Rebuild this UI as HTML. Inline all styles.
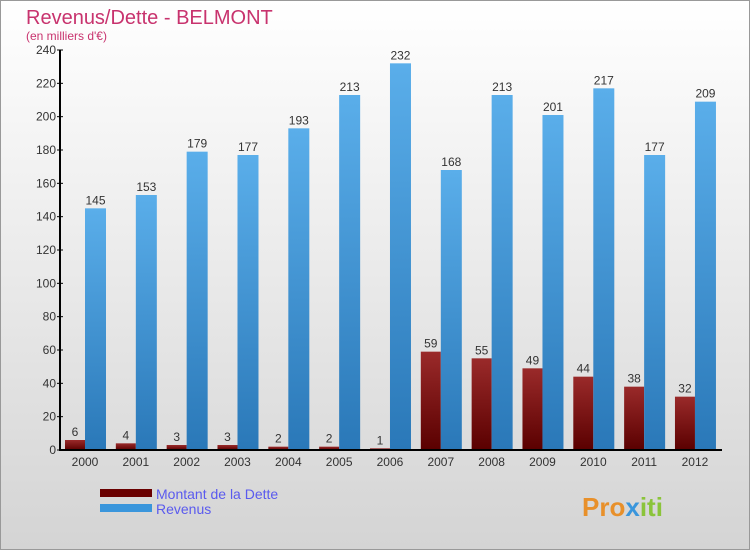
<!DOCTYPE html>
<html><head><meta charset="utf-8"><style>
body{margin:0;}
#c{width:750px;height:550px;position:relative;overflow:hidden;background:linear-gradient(#ffffff,#d4d4d4);font-family:"Liberation Sans",sans-serif;}
</style></head><body>
<div id="c">
<svg id="s" width="750" height="550" style="position:absolute;left:0;top:0">
<rect x="0.5" y="0.5" width="749" height="549" fill="none" stroke="#999"/>
<text x="26" y="24" font-size="20" fill="#c8336e">Revenus/Dette - BELMONT</text>
<text x="26" y="40" font-size="12" fill="#c8336e">(en milliers d'€)</text>
<g id="plot"></g>
<rect x="100" y="489" width="52" height="8" fill="#6a0000"/>
<text x="156" y="499" font-size="14" fill="#5a5aee">Montant de la Dette</text>
<rect x="100" y="504" width="52" height="8" fill="#3a96dc"/>
<text x="156" y="514" font-size="14" fill="#5a5aee">Revenus</text>
<text x="582" y="516" font-size="26" font-weight="bold" fill="#e8902a">Pro<tspan fill="#3a96dc">x</tspan><tspan fill="#8bc43a">iti</tspan></text>
</svg>
</div>
<script>
const years=["2000","2001","2002","2003","2004","2005","2006","2007","2008","2009","2010","2011","2012"];
const debt=[6,4,3,3,2,2,1,59,55,49,44,38,32];
const revenue=[145,153,179,177,193,213,232,168,213,201,217,177,209];
const ticks=[0,20,40,60,80,100,120,140,160,180,200,220,240];
const NS="http://www.w3.org/2000/svg";
const g=document.getElementById('plot');
const y=v=>450-v*400/240;
const xc=i=>85+i*50.83;
function mk(t,a){const e=document.createElementNS(NS,t);for(const k in a)e.setAttribute(k,a[k]);g.appendChild(e);return e;}
const defs=document.createElementNS(NS,'defs');
defs.innerHTML='<linearGradient id="gb" x1="0" y1="0" x2="0" y2="1"><stop offset="0" stop-color="#5aaeea"/><stop offset="1" stop-color="#2a78b8"/></linearGradient><linearGradient id="gr" x1="0" y1="0" x2="0" y2="1"><stop offset="0" stop-color="#9a2a2a"/><stop offset="1" stop-color="#5a0000"/></linearGradient>';
g.appendChild(defs);
ticks.forEach(t=>{
 const l=mk('line',{x1:57,x2:63,y1:y(t),y2:y(t),stroke:'#000'});
 
 const tx=mk('text',{x:56,y:y(t)+4,'text-anchor':'end','font-size':12,fill:'#333'});tx.textContent=t;
 
});
years.forEach((yr,i)=>{
 const c=xc(i);
 const d=mk('rect',{x:c-20,y:y(debt[i]),width:20,height:450-y(debt[i]),fill:'url(#gr)'});
 
 const r=mk('rect',{x:c,y:y(revenue[i]),width:21,height:450-y(revenue[i]),fill:'url(#gb)'});
 
 const dl=mk('text',{x:c-10,y:y(debt[i])-4,'text-anchor':'middle','font-size':12,fill:'#333'});dl.textContent=debt[i];
 
 const rl=mk('text',{x:c+10.5,y:y(revenue[i])-4,'text-anchor':'middle','font-size':12,fill:'#333'});rl.textContent=revenue[i];
 
 const xl=mk('text',{x:c,y:466,'text-anchor':'middle','font-size':12,fill:'#333'});xl.textContent=yr;
 
});
const ax=mk('line',{x1:60,x2:60,y1:50,y2:451,stroke:'#000','stroke-width':2});

const bx=mk('line',{x1:59,x2:722,y1:450,y2:450,stroke:'#000','stroke-width':2});

</script>
</body></html>
